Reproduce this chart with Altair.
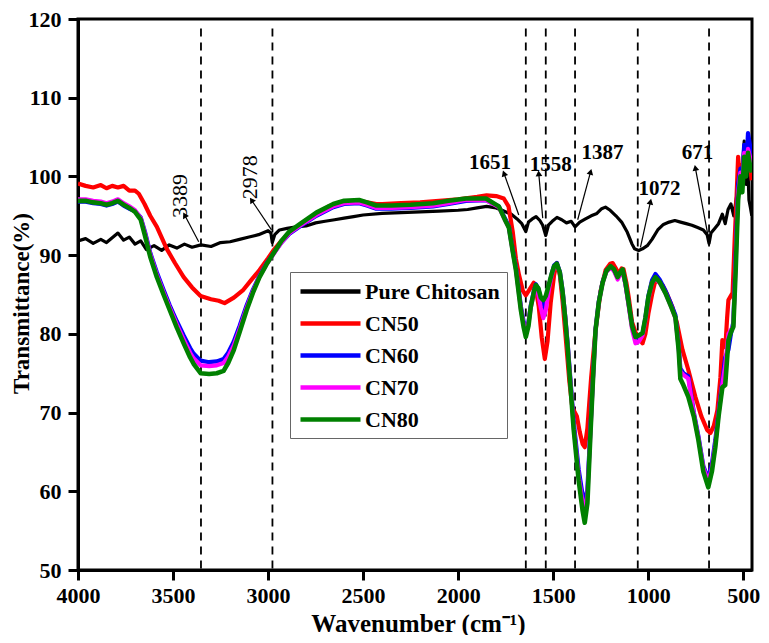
import math
import altair as alt
import pandas as pd

# ---------------- data ----------------
series_names = ["Pure Chitosan", "CN50", "CN60", "CN70", "CN80"]
series_colors = ["#000000", "#ff0000", "#0000ff", "#ff00ff", "#008000"]

chitosan_wn = [4000, 3960, 3920, 3880, 3850, 3820, 3790, 3760, 3730, 3700,
               3670, 3640, 3600, 3560, 3520, 3480, 3440, 3400, 3353, 3300,
               3250, 3200, 3150, 3100, 3050, 3000, 2985, 2978, 2965, 2940,
               2900, 2850, 2800, 2750, 2700, 2650, 2600, 2550, 2500, 2400,
               2300, 2200, 2100, 2000, 1950, 1900, 1850, 1800, 1760, 1720,
               1690, 1665, 1644, 1630, 1610, 1590, 1570, 1555, 1539, 1525,
               1505, 1480, 1455, 1430, 1405, 1385, 1360, 1330, 1300, 1270,
               1245, 1225, 1200, 1170, 1140, 1110, 1085, 1072, 1050, 1030,
               1005, 980, 950, 920, 890, 860, 830, 800, 770, 740,
               710, 690, 680, 670, 650, 630, 610, 595, 580, 565,
               550, 535, 520, 505, 495, 485, 478, 470, 462, 455]
chitosan_t = [91.8, 92.1, 91.5, 92.0, 91.6, 92.2, 92.8, 91.9, 92.3, 91.4,
              91.8, 90.7, 91.2, 90.6, 91.3, 90.9, 91.4, 91.0, 91.3, 91.1,
              91.6, 91.7, 92.0, 92.3, 92.6, 93.1, 92.8, 91.6, 92.6, 93.2,
              93.4, 93.6, 93.7, 94.1, 94.3, 94.5, 94.7, 94.9, 95.1, 95.3,
              95.4, 95.5, 95.6, 95.7, 95.8, 96.0, 96.2, 96.0, 95.6, 95.2,
              94.6, 94.0, 93.0, 94.2, 94.6, 94.9, 94.4, 93.8, 92.5, 93.8,
              94.3, 94.8, 94.5, 94.1, 94.3, 93.6, 94.2, 94.6, 95.0, 95.3,
              95.9, 96.1, 95.7, 95.0, 94.2, 92.9, 91.4, 90.8, 90.6, 90.8,
              91.2, 92.0, 93.2, 93.9, 94.2, 94.4, 94.2, 94.0, 93.8, 93.5,
              93.2, 92.6, 91.5, 92.8, 93.4, 94.0, 95.2, 94.0, 95.8, 96.5,
              95.0, 97.5, 98.5, 101.0, 104.5, 99.0, 103.0, 97.0, 96.0, 95.0]

cn50_wn = [4000, 3960, 3920, 3880, 3850, 3820, 3790, 3760, 3730, 3700,
           3680, 3650, 3620, 3585, 3533, 3490, 3444, 3400, 3355, 3300,
           3260, 3229, 3180, 3130, 3090, 3045, 3000, 2972, 2930, 2888,
           2820, 2746, 2680, 2600, 2550, 2500, 2430, 2400, 2300, 2200,
           2100, 2000, 1900, 1850, 1800, 1760, 1735, 1713, 1696, 1680,
           1660, 1644, 1620, 1602, 1590, 1576, 1560, 1544, 1530, 1513,
           1495, 1481, 1465, 1450, 1434, 1415, 1400, 1392, 1375, 1360,
           1345, 1334, 1320, 1300, 1277, 1250, 1224, 1200, 1187, 1170,
           1156, 1140, 1130, 1115, 1103, 1085, 1067, 1050, 1030, 1015,
           999, 980, 962, 945, 925, 900, 873, 850, 820, 790,
           752, 720, 690, 673, 655, 636, 620, 610, 600, 594,
           585, 578, 566, 556, 545, 535, 527, 515, 505, 495,
           485, 475, 465, 455]
cn50_t = [99.1, 98.8, 98.6, 98.9, 98.5, 98.8, 98.6, 98.8, 98.2, 98.2,
          97.8, 96.5, 95.0, 93.6, 90.8, 89.0, 87.2, 85.9, 84.8, 84.4,
          84.2, 83.9, 84.6, 85.6, 86.8, 88.1, 89.6, 90.6, 91.8, 92.8,
          94.1, 95.3, 96.2, 96.8, 96.9, 96.8, 96.5, 96.5, 96.6, 96.7,
          96.9, 97.1, 97.4, 97.6, 97.5, 97.2, 96.2, 93.0, 89.5, 87.5,
          85.5, 84.9, 85.8, 86.5, 85.5, 83.5, 79.5, 76.8, 79.0, 84.0,
          87.5, 89.0, 87.5, 84.0, 79.5, 74.0, 70.8, 70.3, 69.5, 67.5,
          66.0, 65.6, 68.0, 74.5, 80.5, 85.5, 88.1, 88.9, 89.0, 88.3,
          87.6, 88.3, 88.2, 86.5, 84.7, 81.5, 80.2, 79.5, 78.8, 80.0,
          82.6, 85.0, 86.8, 86.6, 86.2, 85.0, 83.4, 81.5, 78.0, 75.5,
          72.0, 69.5, 67.8, 67.4, 68.3, 70.3, 74.5, 79.2, 79.0, 78.3,
          82.0, 84.3, 84.8, 85.2, 92.0, 97.5, 102.5, 99.0, 101.5, 100.0,
          103.5, 101.0, 102.0, 99.5]

# shared wavenumber grid for CN60 / CN70 / CN80
cn_wn = [4000, 3960, 3920, 3880, 3850, 3820, 3790, 3760, 3730, 3700,
         3670, 3648, 3620, 3585, 3550, 3517, 3480, 3444, 3410, 3392,
         3355, 3310, 3270, 3234, 3210, 3181, 3150, 3113, 3080, 3045,
         3009, 2972, 2930, 2888, 2835, 2746, 2657, 2600, 2521, 2480,
         2431, 2350, 2250, 2132, 2050, 1959, 1854, 1786, 1750, 1733,
         1713, 1696, 1670, 1655, 1644, 1630, 1618, 1600, 1591, 1578,
         1565, 1552, 1539, 1520, 1508, 1495, 1481, 1465, 1450, 1437,
         1424, 1408, 1392, 1366, 1345, 1334, 1320, 1303, 1290, 1277,
         1260, 1240, 1220, 1198, 1180, 1161, 1148, 1135, 1120, 1103,
         1085, 1067, 1050, 1030, 1015, 999, 980, 962, 940, 910,
         880, 857, 840, 831, 815, 789, 760, 736, 710, 684,
         665, 647, 630, 610, 595, 578, 565, 552, 540, 527,
         515, 505, 495, 485, 475, 465, 455]
cn60_t = [96.8, 96.8, 96.6, 96.5, 96.3, 96.5, 96.8, 96.3, 95.9, 95.6,
          94.8, 93.0, 90.3, 87.8, 85.6, 83.6, 81.6, 79.8, 78.2, 77.5,
          76.6, 76.4, 76.5, 76.8, 77.6, 79.0, 81.0, 83.6, 85.6, 87.4,
          88.9, 90.2, 91.6, 92.7, 93.6, 95.0, 96.1, 96.5, 96.6, 96.3,
          95.9, 95.9, 96.0, 96.2, 96.5, 96.9, 97.0, 96.2, 94.5, 93.6,
          90.7, 88.4, 83.5, 81.5, 80.3, 81.5, 83.6, 85.6, 86.3, 85.7,
          84.4, 83.3, 84.2, 86.3, 87.6, 88.7, 89.0, 87.9, 85.4, 82.3,
          78.8, 73.8, 68.8, 62.8, 59.5, 58.8, 60.2, 68.5, 74.8, 80.6,
          84.1, 86.6, 88.0, 88.5, 88.1, 87.1, 87.7, 88.1, 86.4, 83.8,
          81.0, 79.4, 79.5, 80.0, 82.0, 84.8, 86.8, 87.6, 86.9, 85.5,
          83.8, 82.4, 78.5, 75.6, 75.0, 74.6, 70.0, 67.0, 63.2, 61.6,
          63.5, 66.5, 70.0, 74.0, 77.0, 78.0, 80.0, 81.5, 90.0, 99.0,
          101.0, 100.0, 104.0, 101.0, 105.5, 104.0, 102.0]
cn70_t = [97.1, 97.1, 96.9, 96.8, 96.6, 96.8, 97.1, 96.6, 96.2, 95.7,
          94.7, 92.8, 90.1, 87.5, 85.3, 83.3, 81.2, 79.3, 77.6, 76.9,
          76.0, 75.9, 76.0, 76.3, 77.1, 78.5, 80.6, 83.3, 85.4, 87.3,
          88.8, 90.1, 91.6, 92.8, 93.7, 95.1, 96.2, 96.6, 96.7, 96.4,
          96.0, 96.0, 96.1, 96.3, 96.6, 97.0, 97.0, 96.1, 94.3, 93.5,
          90.5, 88.2, 83.2, 81.2, 80.0, 81.3, 83.3, 85.3, 86.0, 85.0,
          83.3, 82.0, 83.0, 86.0, 87.4, 88.5, 88.8, 87.7, 85.2, 82.1,
          78.5, 73.4, 68.2, 62.0, 58.5, 57.8, 59.5, 68.0, 74.6, 80.5,
          84.0, 86.5, 87.9, 88.4, 88.0, 86.9, 87.5, 88.0, 86.3, 83.6,
          80.6, 78.8, 79.0, 79.8, 81.8, 84.5, 86.5, 87.0, 86.5, 85.2,
          83.5, 82.0, 78.3, 75.2, 74.8, 74.3, 69.8, 66.8, 63.0, 61.2,
          63.0, 66.0, 69.8, 73.6, 76.0, 80.0, 80.5, 81.0, 89.0, 98.0,
          100.5, 99.0, 103.0, 100.5, 103.5, 102.5, 101.0]
cn80_t = [96.9, 96.9, 96.7, 96.6, 96.4, 96.6, 96.9, 96.4, 96.0, 95.5,
          94.5, 92.5, 89.8, 87.2, 85.0, 83.0, 80.8, 78.8, 77.0, 76.2,
          75.0, 74.9, 75.0, 75.3, 76.3, 77.9, 80.2, 83.0, 85.2, 87.2,
          88.8, 90.2, 91.8, 93.0, 93.9, 95.4, 96.5, 96.9, 97.0, 96.7,
          96.3, 96.3, 96.4, 96.6, 96.9, 97.2, 97.2, 96.2, 94.3, 93.5,
          90.5, 88.1, 83.0, 80.8, 79.6, 81.0, 83.4, 85.5, 86.2, 85.8,
          84.6, 84.3, 84.8, 86.5, 87.6, 88.6, 88.9, 87.8, 85.2, 82.0,
          78.3, 73.0, 67.8, 61.4, 57.5, 56.0, 58.5, 67.8, 74.5, 80.5,
          84.0, 86.5, 88.0, 88.6, 88.2, 87.2, 87.8, 88.2, 86.5, 83.9,
          81.0, 79.6, 79.8, 80.1, 82.0, 84.7, 86.5, 87.2, 86.6, 85.2,
          83.5, 82.1, 78.0, 74.3, 73.5, 72.0, 69.5, 66.5, 62.5, 60.5,
          62.5, 65.6, 69.5, 73.2, 73.5, 79.2, 80.2, 80.9, 88.0, 97.0,
          100.0, 98.0, 102.5, 100.0, 103.0, 101.5, 100.5]

# dashed guide lines and peak annotations
guide_wn = [3353, 2977, 1644, 1539, 1385, 1055, 680]
guide_top = 118.8
peak_labels = ["3389", "2978", "1651", "1558", "1387", "1072", "671"]
label_wn = [3465, 3097, 1833, 1513, 1240, 941, 741]
label_t = [97.5, 99.9, 101.7, 101.5, 103.0, 98.4, 103.0]
label_rotated = [True, True, False, False, False, False, False]
arrow_tail_wn = [3365, 2982, 1681, 1555, 1371, 1041, 684]
arrow_tail_t = [91.7, 93.2, 95.1, 94.7, 94.5, 91.0, 92.3]
arrow_head_wn = [3439, 3087, 1759, 1576, 1303, 988, 752]
arrow_head_t = [95.1, 97.0, 100.4, 100.4, 100.6, 96.8, 101.1]

x_ticks = [4000, 3500, 3000, 2500, 2000, 1500, 1000, 500]
y_ticks = [50, 60, 70, 80, 90, 100, 110, 120]

# ---------------- layout / style ----------------
W, H = 674, 551
X_DOMAIN = [4000, 454]
Y_DOMAIN = [50, 120]
FONT = "Liberation Serif"

rows = []
for name, wn, tt, sw in [("Pure Chitosan", chitosan_wn, chitosan_t, 3.2),
                         ("CN50", cn50_wn, cn50_t, 4.2),
                         ("CN60", cn_wn, cn60_t, 4.2),
                         ("CN70", cn_wn, cn70_t, 4.2),
                         ("CN80", cn_wn, cn80_t, 4.6)]:
    for a, b in zip(wn, tt):
        rows.append({"wn": a, "T": b, "series": name, "sw": sw})
spectra = pd.DataFrame(rows)

guides = pd.DataFrame({"wn": guide_wn, "T": [guide_top] * len(guide_wn),
                       "T2": [Y_DOMAIN[0]] * len(guide_wn)})

kx = W / (X_DOMAIN[0] - X_DOMAIN[1])
ky = H / (Y_DOMAIN[1] - Y_DOMAIN[0])
angles = []
for tw, tt_, hw, ht in zip(arrow_tail_wn, arrow_tail_t, arrow_head_wn, arrow_head_t):
    dx = (tw - hw) * kx
    dy = -(ht - tt_) * ky
    angles.append(math.degrees(math.atan2(dx, -dy)) % 360)
arrows = pd.DataFrame({"wn": arrow_tail_wn, "wn2": arrow_head_wn,
                       "T": arrow_tail_t, "T2": arrow_head_t, "ang": angles})
heads = pd.DataFrame({"wn": arrow_head_wn, "T": arrow_head_t, "ang": angles})

labels = pd.DataFrame({"wn": label_wn, "T": label_t, "text": peak_labels,
                       "rot": label_rotated})

x_scale = alt.Scale(domain=X_DOMAIN, nice=False, zero=False)
y_scale = alt.Scale(domain=Y_DOMAIN, nice=False, zero=False)
x_axis = alt.Axis(values=x_ticks, format="d", title="Wavenumber (cm⁻¹)",
                  labelPadding=5, labelFlush=False, titleFontSize=25,
                  titleX=340, titleY=61, titleBaseline="alphabetic",
                  titleAlign="center")
y_axis = alt.Axis(values=y_ticks, format="d", title="Transmittance(%)",
                  labelPadding=7, labelFlush=False, titleFontSize=23,
                  titleAngle=270, titleX=-50, titleY=284,
                  titleBaseline="alphabetic", titleAlign="center")


def X(field="wn"):
    return alt.X(f"{field}:Q", scale=x_scale, axis=x_axis)


def Y(field="T"):
    return alt.Y(f"{field}:Q", scale=y_scale, axis=y_axis)


guide_layer = alt.Chart(guides).mark_rule(
    color="black", strokeWidth=1.8, strokeDash=[8, 6]
).encode(x=X(), y=Y(), y2="T2:Q")

lines = alt.Chart(spectra).mark_line(strokeJoin="round", clip=True).encode(
    x=X(), y=Y(),
    color=alt.Color("series:N",
                    scale=alt.Scale(domain=series_names, range=series_colors),
                    legend=alt.Legend(
                        title=None, orient="none", legendX=212, legendY=253,
                        fillColor="white", strokeColor="#666666", padding=7,
                        labelFont=FONT, labelFontWeight="bold", labelFontSize=22,
                        labelColor="black", symbolType="M-3,0L3,0",
                        symbolSize=400, symbolStrokeWidth=4.5, symbolOffset=21,
                        labelOffset=22, rowPadding=8)),
    strokeWidth=alt.StrokeWidth("sw:Q", scale=None, legend=None),
    detail="series:N",
)

arrow_lines = alt.Chart(arrows).mark_rule(color="black", strokeWidth=1.2).encode(
    x=X(), x2="wn2:Q", y=Y(), y2="T2:Q")
arrow_heads = alt.Chart(heads).mark_point(
    shape="triangle-up", filled=True, size=45, color="black", opacity=1
).encode(x=X(), y=Y(), angle=alt.Angle("ang:Q", scale=None))

rot_text = alt.Chart(labels).transform_filter("datum.rot").mark_text(
    font=FONT, fontSize=22, angle=270, color="black"
).encode(x=X(), y=Y(), text="text:N")
flat_text = alt.Chart(labels).transform_filter("!datum.rot").mark_text(
    font=FONT, fontSize=21, fontWeight="bold", color="black"
).encode(x=X(), y=Y(), text="text:N")

chart = alt.layer(
    guide_layer, lines, arrow_lines, arrow_heads, rot_text, flat_text
).properties(
    width=W, height=H,
    autosize=alt.AutoSizeParams(type="none"),
    padding={"left": 70, "top": 11, "right": 9, "bottom": 65},
    background="white",
).configure_view(
    stroke="black", strokeWidth=3
).configure_axis(
    grid=False, domainColor="black", domainWidth=3, tickColor="black",
    tickWidth=3, tickSize=10, labelFont=FONT, labelFontWeight="bold",
    labelFontSize=22, labelColor="black", titleFont=FONT,
    titleFontWeight="bold", titleColor="black",
)

chart.save("out.html", embed_options={"renderer": "svg", "actions": False})
